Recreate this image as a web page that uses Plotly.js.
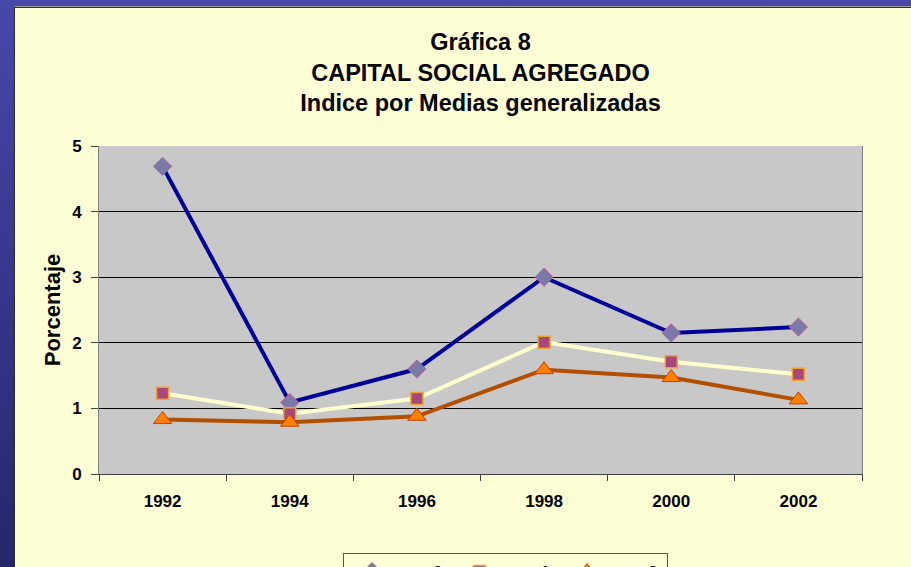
<!DOCTYPE html>
<html>
<head>
<meta charset="utf-8">
<script src="https://cdn.plot.ly/plotly-3.0.1.min.js"></script>
<style>
  html, body { margin: 0; padding: 0; width: 911px; height: 567px; overflow: hidden; }
  body { background: linear-gradient(to bottom, #4848AA 0%, #3A3A92 40%, #26266A 100%); position: relative; }
  #wrap { position: absolute; left: 14px; top: 6px; width: 897px; height: 561px;
          border-left: 1px solid #2a2a2a; border-top: 1px solid #9a9a9a; box-sizing: border-box; }
  #chart { position: absolute; left: 0; top: 0; width: 896px; height: 560px; border-top: 1px solid #333; }
</style>
</head>
<body>
<div id="wrap"><div id="chart"></div></div>
<script>
const years = ['1992', '1994', '1996', '1998', '2000', '2002'];
const serie0 = [4.69, 1.09, 1.60, 3.00, 2.15, 2.24];
const serie1 = [1.23, 0.92, 1.15, 2.01, 1.71, 1.52];
const serie2 = [0.83, 0.79, 0.88, 1.59, 1.47, 1.13];
const seriesNames = ['0', '1', '2'];
const yTicks = [0, 1, 2, 3, 4, 5];

const FONT = 'Liberation Sans, Arial, sans-serif';
const bg = '#FFFFD6';
const pad = '\u00a0'.repeat(7);

const traces = [
  {
    x: years, y: serie0, name: pad + seriesNames[0], type: 'scatter', mode: 'lines+markers',
    line: { color: '#000099', width: 4 },
    marker: { symbol: 'diamond', size: 14, color: '#7A7AA8', line: { color: '#C06090', width: 1 } }
  },
  {
    x: years, y: serie1, name: pad + seriesNames[1], type: 'scatter', mode: 'lines+markers',
    line: { color: '#FFFFCC', width: 4 },
    marker: { symbol: 'square', size: 12, color: '#A8487A', line: { color: '#F0A030', width: 1.5 } }
  },
  {
    x: years, y: serie2, name: pad + seriesNames[2], type: 'scatter', mode: 'lines+markers',
    line: { color: '#B34F00', width: 4 },
    marker: { symbol: 'triangle-up', size: 16, color: '#FF8000', line: { color: '#C04000', width: 1 } }
  }
];

const layout = {
  width: 896, height: 560,
  margin: { l: 84, r: 49, t: 138, b: 94, autoexpand: false },
  paper_bgcolor: bg,
  plot_bgcolor: '#C8C8C8',
  font: { family: FONT, color: '#000000' },
  title: {
    text: '<b>Gráfica 8<br>CAPITAL SOCIAL AGREGADO<br>Indice por Medias generalizadas</b>',
    font: { family: FONT, size: 23.5, color: '#000000' },
    x: 0.5, xanchor: 'center', xref: 'paper',
    y: 0.925, yanchor: 'top', yref: 'container'
  },
  xaxis: {
    type: 'category',
    categoryorder: 'array', categoryarray: years,
    range: [-0.5, 5.5],
    tickson: 'boundaries',
    ticks: 'outside', ticklen: 6, tickcolor: '#404040', tickwidth: 1,
    showline: true, linecolor: '#404040', linewidth: 1,
    showgrid: false, zeroline: false,
    tickfont: { family: FONT, size: 17, color: '#000000', weight: 'bold' },
    ticklabelstandoff: 12,
    fixedrange: true
  },
  yaxis: {
    range: [0, 5],
    tickvals: yTicks,
    ticktext: yTicks.map(String),
    ticks: 'outside', ticklen: 7, tickcolor: '#404040', tickwidth: 1,
    showline: true, linecolor: '#808080', linewidth: 1, mirror: true,
    showgrid: true, gridcolor: '#000000', gridwidth: 1,
    zeroline: false,
    tickfont: { family: FONT, size: 17, color: '#000000', weight: 'bold' },
    ticklabelstandoff: 6,
    title: { text: '<b>Porcentaje</b>', font: { family: FONT, size: 22, color: '#000000' }, standoff: 5 },
    fixedrange: true
  },
  showlegend: true,
  legend: {
    orientation: 'h',
    x: 0.3198, xanchor: 'left',
    y: -0.241, yanchor: 'top',
    bgcolor: bg, bordercolor: '#555555', borderwidth: 1,
    font: { family: FONT, size: 17, color: '#000000', weight: 'bold' },
    itemwidth: 46,
    entrywidth: 46.5, entrywidthmode: 'pixels',
    traceorder: 'normal'
  }
};

Plotly.newPlot('chart', traces, layout, { displayModeBar: false, staticPlot: true });
</script>
</body>
</html>
